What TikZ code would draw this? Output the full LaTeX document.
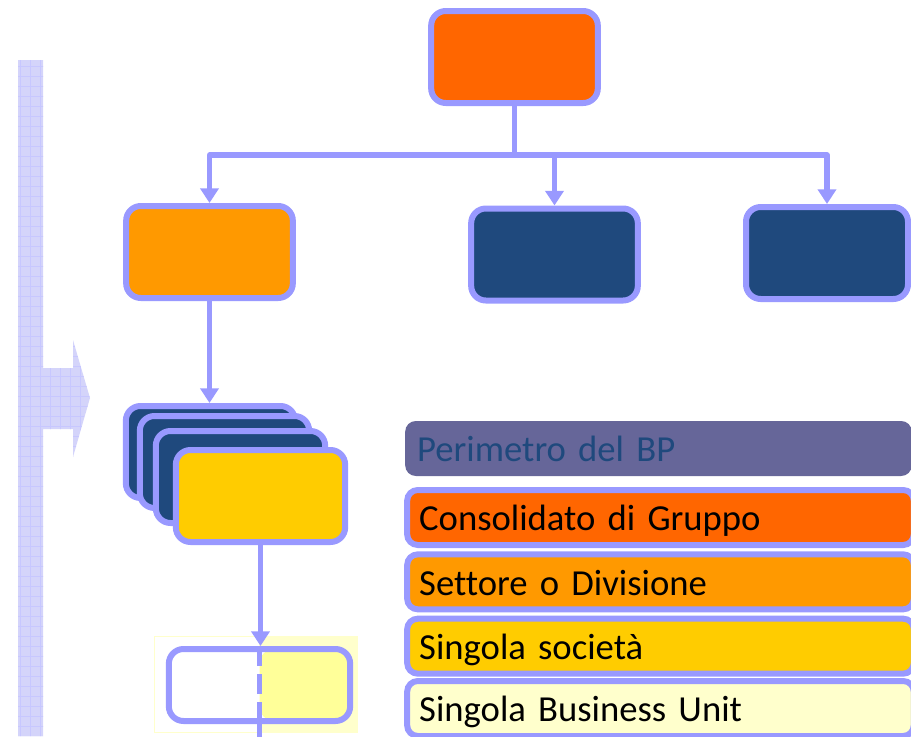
\documentclass[tikz,border=0pt]{standalone}
\usepackage{fontspec}
\setmainfont{Carlito}[Ligatures=NoCommon]
\usetikzlibrary{positioning,arrows.meta,patterns.meta}

\definecolor{lav}{RGB}{153,153,255}
\definecolor{barfill}{RGB}{212,212,250}
\definecolor{grpcol}{RGB}{255,102,0}
\definecolor{divcol}{RGB}{255,153,0}
\definecolor{navy}{RGB}{31,73,125}
\definecolor{soccol}{RGB}{255,204,0}
\definecolor{bucol}{RGB}{255,255,153}
\definecolor{pale}{RGB}{255,255,204}
\definecolor{perim}{RGB}{102,102,153}

\tikzset{
  box/.style={draw=lav, line width=4.5pt, rounded corners=11pt, inner sep=0pt,
    minimum width=125pt, minimum height=69pt},
  link/.style={draw=lav, line width=4pt, line join=round},
  arr/.style={link, -{Triangle[width=13.5pt,length=11pt]}},
  legend/.style={box, rounded corners=8pt, minimum width=380pt, minimum height=41.25pt,
    text width=362pt, align=left, inner xsep=9pt, text height=25pt, text depth=5pt,
    font=\fontsize{27.5}{33}\selectfont},
  hatch/.style={pattern={Lines[angle=#1,distance=7.5pt,line width=0.6pt]}, pattern color=lav!55},
}

\begin{document}
\begin{tikzpicture}[x=0.75pt,y=-0.75pt]
    \clip (0,0) rectangle (911,736);

    % Side arrow
    \fill[barfill, postaction={hatch=0}, postaction={hatch=90}]
        (18,60) -- (43,60) -- (43,368) -- (73,368) -- (73,340) -- (90,398)
        -- (73,457) -- (73,429) -- (43,429) -- (43,736) -- (18,736) -- cycle;

    % Boxes
    \node[box, fill=grpcol] (grp) at (514.5,57) {};
    \node[box, fill=divcol] (div) at (209.5,252) {};
    \node[box, fill=navy] (socA) at (554.5,254.5) {};
    \node[box, fill=navy, minimum width=121.5pt] (socB) at (827,253) {};

    \node[box, fill=navy, minimum width=127pt] (soc1) at (210.5,452) {};
    \node[box, fill=navy, minimum width=127pt] (soc2) at (224.5,462) {};
    \node[box, fill=navy, minimum width=127pt] (soc3) at (240.5,477) {};
    \node[box, fill=soccol, minimum width=127pt] (soc4) at (260.5,496) {};

    \fill[pale] (259,636) rectangle (357,732);
    \draw[pale, line width=0.75pt] (154,636) rectangle (357,732);
    \node[box, fill=white, minimum width=136pt, minimum height=54pt,
        path picture={\fill[bucol] (path picture bounding box.north) rectangle (path picture bounding box.south east);}]
        (bu) at (259.5,685) {};

    % Lines
    \coordinate (split) at (514.5,155);
    \coordinate (tail) at (259.5,740);
    \draw[link] (grp.south) -- (split);
    \draw[arr] (split) -| (div.north);
    \draw[arr] (split) -| (socA.north);
    \draw[arr] (split) -| (socB.north);
    \draw[arr] (div.south) -- (div.south |- soc1.north);
    \draw[arr] (soc4.south) -- (soc4.south |- bu.north);
    \draw[link, dash pattern=on 15pt off 6pt] (bu.north) -- (bu.south);
    \draw[link] (bu.south) -- (tail);

    % Legend
    \node[legend, draw=none, fill=perim, text=navy] (legP) at (658.5,448.5) {Perimetro del BP};
    \node[legend, fill=grpcol] (legG) at (660.5,517.5) {Consolidato di Gruppo};
    \node[legend, fill=divcol, below=2.5pt of legG] (legS) {Settore o Divisione};
    \node[legend, fill=soccol, below=2.5pt of legS] (legC) {Singola società};
    \node[legend, fill=pale, below=1pt of legC] (legU) {Singola Business Unit};

\end{tikzpicture}
\end{document}
